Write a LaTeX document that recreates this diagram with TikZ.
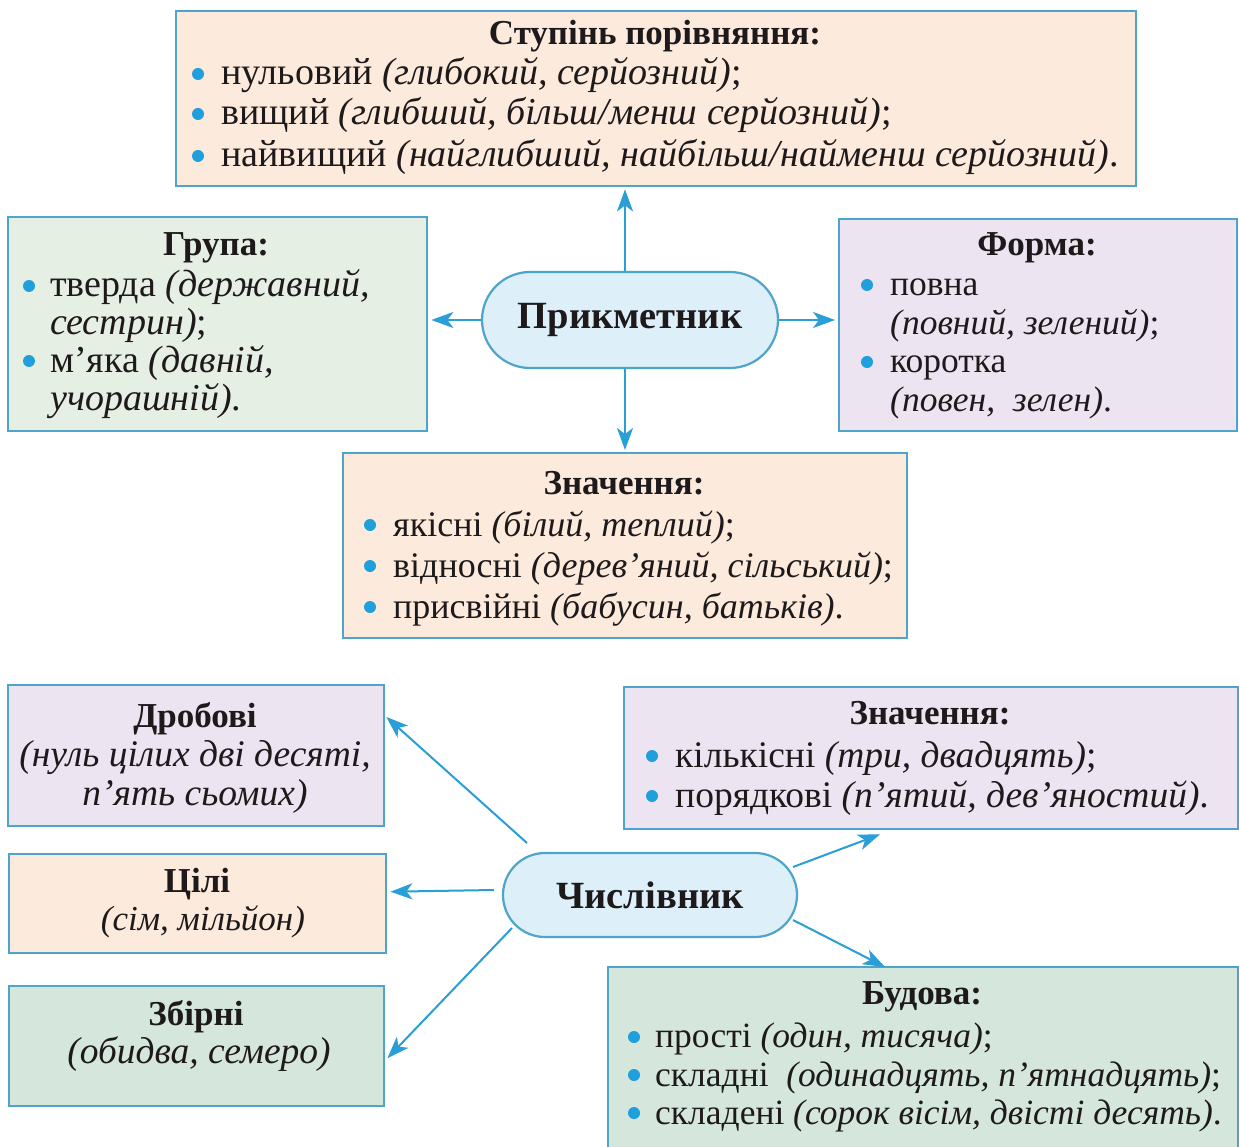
\documentclass[tikz,border=0pt]{standalone}
\usepackage{fontspec}
\setmainfont{Liberation Serif}
\usetikzlibrary{arrows.meta,calc}
\definecolor{peach}{HTML}{FCEADD}
\definecolor{greenA}{HTML}{E5EFE3}
\definecolor{greenB}{HTML}{D5E7DC}
\definecolor{lav}{HTML}{EDE4F1}
\definecolor{stadfill}{HTML}{DDF0FA}
\definecolor{bord}{HTML}{4FA4C9}
\definecolor{arrc}{HTML}{2A9ED6}
\definecolor{bulc}{HTML}{1FA0DC}
\definecolor{ink}{HTML}{1E1A1B}
\newcommand\fsz[1]{\fontsize{#1}{#1}\selectfont}
\newcommand\mybul[2]{\fill[bulc] (#1,#2) circle (6pt);}
\tikzset{
  box/.style={draw=bord, line width=2.4pt, inner sep=0pt, anchor=north west},
  stad/.style={draw=bord, line width=2.2pt, fill=stadfill, inner sep=0pt,
     font=\fsz{38.5}\bfseries, text=ink},
  ln/.style={anchor=base west, inner sep=0pt, font=\fsz{#1}, text=ink},
  ln/.default=35,
  ttl/.style={anchor=base, inner sep=0pt, font=\fsz{35}\bfseries, text=ink},
  cln/.style={anchor=base, inner sep=0pt, font=\fsz{#1}, text=ink},
  cln/.default=35,
  arr/.style={draw=arrc, line width=2pt, -{Stealth[length=22pt,width=16pt,inset=6pt]}},
}
\begin{document}
\begin{tikzpicture}[x=1pt,y=-1pt]
\useasboundingbox (0,0) rectangle (1239,1147);
\fill[white] (0,0) rectangle (1239,1147);

% ---------- upper part: Прикметник ----------
\node[box, fill=peach, minimum width=960pt, minimum height=175pt] (stup) at (175,10) {};
\node[ttl] (stupt) at (655,45) {Ступінь порівняння:};
\mybul{198}{74}
\node[ln=38] (s1) at (221,85) {нульовий \textit{(глибокий, серйозний)};};
\mybul{198}{114}
\node[ln=38] (s2) at (221,125) {вищий \textit{(глибший, більш/менш серйозний)};};
\mybul{198}{156}
\node[ln=38] (s3) at (221,167) {найвищий \textit{(найглибший, найбільш/найменш серйозний)}.};

\node[box, fill=greenA, minimum width=419pt, minimum height=214pt] (grp) at (7,216) {};
\node[ttl] (grpt) at (216,256) {Група:};
\mybul{29}{286}
\node[ln=38] (g1) at (50,297) {тверда \textit{(державний,}};
\node[ln=38] (g2) at (50,335) {\textit{сестрин)};};
\mybul{29}{361}
\node[ln=38] (g3) at (50,372) {м’яка \textit{(давній,}};
\node[ln=38] (g4) at (50,410) {\textit{учорашній)}.};

\node[box, fill=lav, minimum width=398pt, minimum height=212pt] (form) at (838,218) {};
\node[ttl] (formt) at (1037,256) {Форма:};
\mybul{867}{285}
\node[ln=35.5] (f1) at (890,296) {повна};
\node[ln=35.5] (f2) at (890,335) {\textit{(повний, зелений)};};
\mybul{867}{362}
\node[ln=35.5] (f3) at (890,373) {коротка};
\node[ln=35.5] (f4) at (890,411) {\textit{(повен, \ зелен)}.};

\node[box, fill=peach, minimum width=564pt, minimum height=185pt] (zn) at (342,452) {};
\node[ttl] (znt) at (624,494) {Значення:};
\mybul{370}{525}
\node[ln=36] (z1) at (393,536) {якісні \textit{(білий, теплий)};};
\mybul{370}{566}
\node[ln=36] (z2) at (393,577) {відносні \textit{(дерев’яний, сільський)};};
\mybul{370}{607}
\node[ln=36] (z3) at (393,618) {присвійні \textit{(бабусин, батьків)}.};

\node[stad, minimum width=296pt, minimum height=96pt, rounded corners=48pt] (adj) at (630,320) {Прикметник};

\draw[arr, shorten >=2pt] ([xshift=-5pt]adj.north) -- ([xshift=-5pt]adj.north |- stup.south);
\draw[arr, shorten >=2pt] ([xshift=-5pt]adj.south) -- ([xshift=-5pt]adj.south |- zn.north);
\draw[arr, shorten >=3pt] (adj.west) -- (adj.west -| grp.east);
\draw[arr, shorten >=3pt] (adj.east) -- (adj.east -| form.west);

% ---------- lower part: Числівник ----------
\node[box, fill=lav, minimum width=376pt, minimum height=141pt] (drob) at (7,684) {};
\node[ttl] (drobt) at (195,727) {Дробові};
\node[cln=37.5] (d1) at (195,766) {\textit{(нуль цілих дві десяті,}};
\node[cln=37.5] (d2) at (195,805) {\textit{п’ять сьомих)}};

\node[box, fill=peach, minimum width=377pt, minimum height=99pt] (cil) at (8,853) {};
\node[ttl] (cilt) at (197,892) {Цілі};
\node[cln=35] (c1) at (203,930) {\textit{(сім, мільйон)}};

\node[box, fill=greenB, minimum width=375pt, minimum height=120pt] (zb) at (8,985) {};
\node[ttl] (zbt) at (196,1025) {Збірні};
\node[cln=37.5] (b1) at (199,1063) {\textit{(обидва, семеро)}};

\node[box, fill=lav, minimum width=614pt, minimum height=142pt] (znum) at (623,686) {};
\node[ttl] (znumt) at (930,724) {Значення:};
\mybul{652}{756}
\node[ln=37.5] (n1) at (675,767) {кількісні \textit{(три, двадцять)};};
\mybul{652}{796}
\node[ln=37.5] (n2) at (675,807) {порядкові \textit{(п’ятий, дев’яностий)}.};

\node[box, fill=greenB, minimum width=630pt, minimum height=190pt] (bud) at (607,966) {};
\node[ttl] (budt) at (922,1004) {Будова:};
\mybul{634}{1037}
\node[ln=35.5] (u1) at (655,1047) {прості \textit{(один, тисяча)};};
\mybul{634}{1075}
\node[ln=35.5] (u2) at (655,1086) {складні \ \textit{(одинадцять, п’ятнадцять)};};
\mybul{634}{1113}
\node[ln=35.5] (u3) at (655,1124) {складені \textit{(сорок вісім, двісті десять)}.};

\node[stad, minimum width=294pt, minimum height=84pt, rounded corners=42pt] (num) at (650,895) {Числівник};

\draw[arr] ($(num.center)+(-123,-52)$) -- ($(drob.north east)+(1,33)$);
\draw[arr] ($(num.west)+(-8,-5)$) -- ($(cil.east)+(3,-12)$);
\draw[arr] ($(num.center)+(-138,33)$) -- ($(zb.east)+(2,12)$);
\draw[arr] ($(num.center)+(143,-28)$) -- ($(znum.south west)+(257,4)$);
\draw[arr] ($(num.center)+(143,25)$) -- ($(bud.north west)+(278,1)$);
\end{tikzpicture}
\end{document}
